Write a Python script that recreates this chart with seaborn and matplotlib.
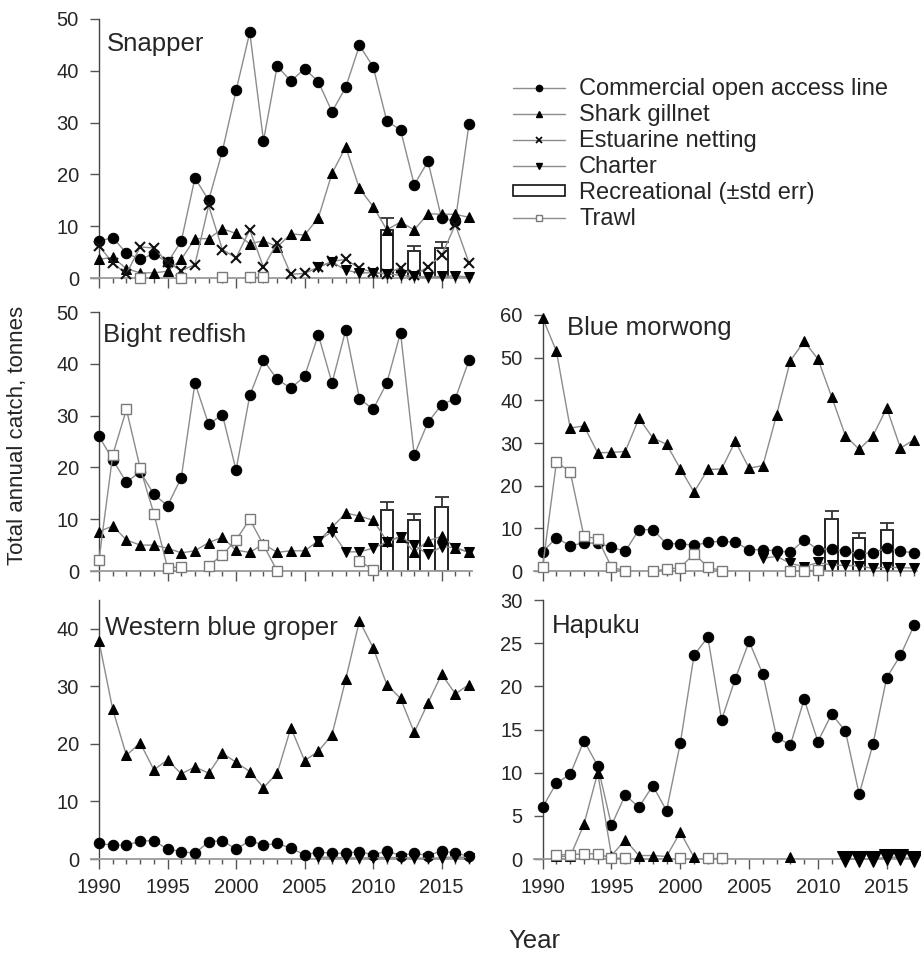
import numpy as np
import pandas as pd
import matplotlib
matplotlib.use("Agg")
import matplotlib.pyplot as plt
from matplotlib.lines import Line2D
from matplotlib.patches import Rectangle
from matplotlib.ticker import MultipleLocator
import seaborn as sns

nan = np.nan
years = list(range(1990, 2018))
rec_years = [2011, 2013, 2015]

# Snapper
snap_comm = [7.1, 7.8, 4.8, 3.6, 4.7, 3.0, 7.1, 19.3, 15.0, 24.5, 36.2, 47.4, 26.5, 40.9,
             38.0, 40.4, 37.9, 32.1, 36.8, 44.9, 40.8, 30.3, 28.6, 18.0, 22.5, 11.5, 11.1, 29.8]
snap_gill = [3.6, 4.0, 1.8, 1.0, 1.0, 1.3, 3.6, 7.6, 7.6, 9.5, 8.6, 6.6, 7.2, 6.0,
             8.5, 8.3, 11.6, 20.2, 25.3, 17.3, 13.8, 9.3, 10.8, 9.3, 12.4, 12.3, 12.3, 11.7]
snap_est = [6.2, 2.9, 0.8, 6.0, 5.8, 3.0, 1.4, 2.6, 14.0, 5.5, 3.9, 9.3, 2.1, 6.8,
            0.7, 0.9, 2.1, 3.2, 3.6, 1.9, 1.1, 0.8, 2.0, 0.5, 2.2, 4.4, 10.3, 2.9]
snap_charter = [nan] * 16 + [2.1, 3.1, 1.5, 1.0, 1.0, 0.8, 0.5, 0.3, 0.2, 0.3, 0.4, 0.2]
snap_trawl = [nan, nan, nan, 0.0, nan, nan, 0.0, nan, nan, 0.2, nan, 0.2, 0.2, nan,
              nan, nan, nan, nan, nan, nan, nan, nan, nan, nan, nan, nan, nan, nan]
snap_rec = [9.3, 5.2, 5.8]
snap_rec_err = [2.3, 0.9, 1.2]

# Bight redfish
bight_comm = [26.0, 21.5, 17.1, 19.2, 14.8, 12.6, 18.0, 36.3, 28.3, 30.2, 19.5, 33.9, 40.7, 37.0,
              35.3, 37.6, 45.6, 36.3, 46.5, 33.3, 31.2, 36.3, 46.0, 22.4, 28.7, 32.1, 33.3, 40.7]
bight_gill = [7.6, 8.7, 6.0, 5.0, 5.0, 4.4, 3.5, 3.9, 5.5, 6.5, 4.0, 3.6, 5.2, 3.6,
              3.9, 3.9, 5.8, 8.4, 11.2, 10.6, 9.8, 5.8, 6.6, 3.7, 5.8, 6.7, 4.5, 3.6]
bight_charter = [nan] * 16 + [5.8, 7.6, 3.7, 3.7, 4.4, 5.6, 6.6, 5.0, 3.2, 4.7, 4.5, 3.6]
bight_trawl = [2.2, 22.4, 31.2, 19.9, 11.1, 0.6, 0.8, nan, 1.0, 3.1, 6.0, 10.0, 5.0, 0.0,
               nan, nan, nan, nan, nan, 2.0, 0.2, nan, nan, nan, nan, nan, nan, nan]
bight_rec = [11.8, 9.9, 12.4]
bight_rec_err = [1.6, 1.1, 1.8]

# Blue morwong
blue_gill = [59.3, 51.5, 33.5, 34.0, 27.7, 27.8, 28.0, 35.8, 31.2, 29.7, 24.0, 18.5, 23.8, 23.9,
             30.4, 24.1, 24.7, 36.6, 49.3, 53.8, 49.7, 40.8, 31.7, 28.5, 31.7, 38.2, 28.8, 30.8]
blue_comm = [4.5, 7.8, 5.9, 6.6, 6.5, 5.6, 4.6, 9.7, 9.7, 6.4, 6.4, 6.0, 6.7, 7.0,
             6.7, 5.0, 5.0, 4.7, 4.4, 7.3, 5.0, 5.2, 4.6, 4.0, 4.3, 5.4, 4.6, 4.3]
blue_charter = [nan] * 16 + [3.0, 3.4, 1.8, 1.0, 2.0, 1.4, 1.3, 1.2, 0.6, 0.9, 0.8, 0.7]
blue_trawl = [1.0, 25.5, 23.3, 8.1, 7.6, 0.9, 0.0, nan, 0.0, 0.4, 0.8, 4.0, 1.0, 0.0,
              nan, nan, nan, nan, 0.0, 0.0, 0.2, nan, nan, nan, nan, nan, nan, nan]
blue_rec = [12.1, 7.8, 9.5]
blue_rec_err = [1.9, 1.0, 1.8]

# Western blue groper
wbg_gill = [37.8, 26.0, 18.0, 20.2, 15.5, 17.2, 14.8, 16.0, 14.9, 18.4, 16.8, 15.2, 12.4, 14.9,
            22.8, 17.1, 18.7, 21.6, 31.2, 41.4, 36.7, 30.3, 27.9, 22.0, 27.1, 32.1, 28.7, 30.3]
wbg_comm = [2.7, 2.4, 2.4, 3.1, 3.2, 1.7, 1.3, 1.0, 3.0, 3.2, 1.7, 3.2, 2.4, 2.7,
            1.9, 0.7, 1.2, 1.0, 1.0, 1.3, 0.7, 1.4, 0.6, 1.0, 0.6, 1.4, 1.0, 0.5]
wbg_charter = [nan] * 16 + [0.3, 0.3, 0.2, 0.2, 0.2, 0.3, 0.2, 0.2, 0.1, 0.2, 0.4, 0.2]

# Hapuku
hap_comm = [6.0, 8.8, 9.8, 13.7, 10.8, 3.9, 7.4, 6.0, 8.5, 5.6, 13.4, 23.6, 25.7, 16.1,
            20.9, 25.2, 21.4, 14.1, 13.2, 18.5, 13.6, 16.8, 14.8, 7.5, 13.3, 21.0, 23.6, 27.1]
hap_gill = [nan, 0.3, 0.3, 4.0, 10.0, 0.4, 2.2, 0.4, 0.4, 0.3, 3.1, 0.2, nan, nan,
            nan, nan, nan, nan, 0.2, nan, nan, nan, nan, nan, nan, nan, nan, nan]
hap_trawl = [nan, 0.5, 0.5, 0.6, 0.6, 0.1, 0.1, nan, nan, nan, 0.1, nan, 0.1, 0.1,
             nan, nan, nan, nan, nan, nan, nan, nan, nan, nan, nan, nan, nan, nan]
hap_charter = [nan] * 22 + [0.0, 0.0, 0.0, 0.2, 0.2, 0.0]

sns.set_theme(style="ticks")
plt.rcParams["font.family"] = ["Liberation Sans", "DejaVu Sans"]
TXT = "#262626"
LINE = "#8c8c8c"

styles = {
    "comm": dict(marker="o", markersize=7.5, markerfacecolor="black", markeredgecolor="black"),
    "gill": dict(marker="^", markersize=7.5, markerfacecolor="black", markeredgecolor="black"),
    "est": dict(marker="x", markersize=7, markeredgecolor="#111111", markeredgewidth=1.5),
    "charter": dict(marker="v", markersize=7.5, markerfacecolor="black", markeredgecolor="black"),
    "trawl": dict(marker="s", markersize=6.5, markerfacecolor="white", markeredgecolor="#7a7a7a",
                  markeredgewidth=1.0),
}


def draw_series(ax, vals, kind, **extra):
    s = pd.Series(vals, index=years, dtype=float)
    ok = s.notna()
    grp = (~ok).cumsum()[ok]
    kw = dict(styles[kind])
    kw.update(extra)
    # one call per unbroken run so gaps in the record stay gaps
    for _, seg in s[ok].groupby(grp):
        sns.lineplot(x=seg.index.to_numpy(), y=seg.to_numpy(), ax=ax, color=LINE, linewidth=1.0,
                     legend=False, estimator=None, errorbar=None, clip_on=False, zorder=3, **kw)


def draw_rec(ax, vals, err):
    ax.bar(rec_years, vals, width=0.9, color="white", edgecolor="#111111", linewidth=1.3, zorder=2)
    ax.errorbar(rec_years, vals, yerr=[np.zeros(len(err)), err], fmt="none", ecolor="#333333",
                elinewidth=1.3, capsize=5, capthick=1.3, zorder=2)


W, H = 921, 955
fig = plt.figure(figsize=(W / 100, H / 100), dpi=100)


def make_ax(left_px, top_px, bottom_px, width_px):
    return fig.add_axes([left_px / W, 1 - bottom_px / H, width_px / W, (bottom_px - top_px) / H])


panels = [
    dict(title="Snapper", rect=(90.8, 19, 278, 381), ylim=50, ystep=10, tpos=(0.043, 0.876),
         series=[(snap_comm, "comm"), (snap_gill, "gill"), (snap_est, "est"),
                 (snap_charter, "charter"), (snap_trawl, "trawl")],
         rec=(snap_rec, snap_rec_err), xlabels=False),
    dict(title="Bight redfish", rect=(90.8, 312, 571, 381), ylim=50, ystep=10, tpos=(0.031, 0.885),
         series=[(bight_comm, "comm"), (bight_gill, "gill"), (bight_charter, "charter"),
                 (bight_trawl, "trawl")],
         rec=(bight_rec, bight_rec_err), xlabels=False),
    dict(title="Blue morwong", rect=(534.4, 315, 571, 382.6), ylim=60, ystep=10, tpos=(0.084, 0.92),
         series=[(blue_gill, "gill"), (blue_comm, "comm"), (blue_charter, "charter"),
                 (blue_trawl, "trawl")],
         rec=(blue_rec, blue_rec_err), xlabels=False),
    dict(title="Western blue groper", rect=(90.8, 600, 859, 381), ylim=45, ystep=10, tpos=(0.037, 0.865),
         series=[(wbg_gill, "gill"), (wbg_comm, "comm"), (wbg_charter, "charter")],
         rec=None, xlabels=True),
    dict(title="Hapuku", rect=(534.4, 600, 859, 382.6), ylim=30, ystep=5, tpos=(0.045, 0.873),
         series=[(hap_comm, "comm"), (hap_gill, "gill"), (hap_trawl, "trawl")],
         rec=None, xlabels=True),
]

for p in panels:
    left, top, bottom, width = p["rect"]
    ax = make_ax(left, top, bottom, width)
    if p["rec"] is not None:
        draw_rec(ax, *p["rec"])
    for vals, kind in p["series"]:
        draw_series(ax, vals, kind)
    if p["title"] == "Hapuku":
        draw_series(ax, hap_charter, "charter", markersize=11)

    ax.set_xlim(1989.4, 2017.2)
    ax.set_ylim(0, p["ylim"])
    ax.set_yticks(np.arange(0, p["ylim"] + 0.1, p["ystep"]))
    ax.xaxis.set_major_locator(MultipleLocator(5))
    ax.xaxis.set_minor_locator(MultipleLocator(1))
    ax.spines["left"].set_position(("data", 1990))
    ax.spines["left"].set_color("#444444")
    ax.spines["left"].set_linewidth(1.0)
    ax.spines["bottom"].set_color("#9a9a9a")
    ax.spines["bottom"].set_linewidth(1.3)
    sns.despine(ax=ax)
    ax.tick_params(axis="y", direction="out", length=6.5, width=1, color="#555555",
                   labelsize=14.5, labelcolor=TXT, pad=8)
    ax.tick_params(axis="x", which="major", direction="out", length=7, width=1, color="#555555",
                   labelsize=14.5, labelcolor=TXT, pad=7)
    ax.tick_params(axis="x", which="minor", direction="out", length=3.5, width=1, color="#555555")
    ax.tick_params(axis="x", labelbottom=p["xlabels"])
    ax.set_xlabel("")
    ax.set_ylabel("")
    ax.text(p["tpos"][0], p["tpos"][1], p["title"], transform=ax.transAxes, fontsize=18.5,
            color=TXT, ha="left", va="baseline")

# legend
handles = [
    Line2D([], [], color=LINE, lw=1, marker="o", markersize=4.5, markerfacecolor="black", markeredgecolor="black"),
    Line2D([], [], color=LINE, lw=1, marker="^", markersize=4.5, markerfacecolor="black", markeredgecolor="black"),
    Line2D([], [], color=LINE, lw=1, marker="x", markersize=4.5, markeredgecolor="black", markeredgewidth=1.2),
    Line2D([], [], color=LINE, lw=1, marker="v", markersize=4.5, markerfacecolor="black", markeredgecolor="black"),
    Rectangle((0, 0), 1, 1, facecolor="white", edgecolor="#111111", linewidth=1.2),
    Line2D([], [], color=LINE, lw=1, marker="s", markersize=4.5, markerfacecolor="white", markeredgecolor="#7a7a7a"),
]
labels = ["Commercial open access line", "Shark gillnet", "Estuarine netting", "Charter",
          "Recreational (\u00b1std err)", "Trawl"]
fig.legend(handles, labels, loc="upper left", bbox_to_anchor=(513 / W, 1 - 78 / H), frameon=False,
           fontsize=17, handlelength=2.2, handletextpad=0.6, labelspacing=0.17, borderpad=0,
           borderaxespad=0, handleheight=0.33, labelcolor=TXT)

fig.text(18 / W, 1 - 435 / H, "Total annual catch, tonnes", rotation=90, ha="center", va="center",
         fontsize=16, color=TXT)
fig.text(534 / W, 1 - 948 / H, "Year", ha="center", va="baseline", fontsize=18.5, color=TXT)

fig.savefig("out.png", dpi=100)
